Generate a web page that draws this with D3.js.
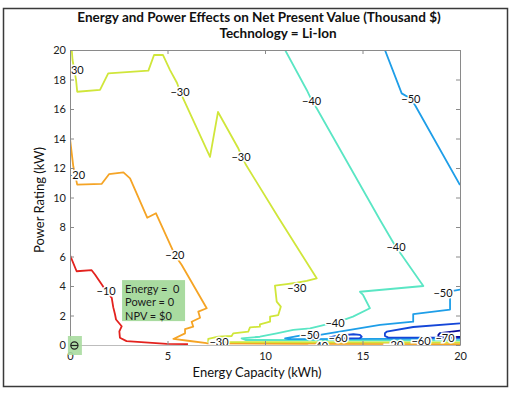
<!DOCTYPE html>
<html>
<head>
<meta charset="utf-8">
<script src="https://cdn.jsdelivr.net/npm/d3@7"></script>
<style>
  body { margin: 0; background: #fff; }
  svg text { font-family: Lato, "Open Sans", sans-serif; }
</style>
</head>
<body>
<svg id="chart" width="514" height="394"></svg>
<script>
/* DATA (energy kWh, power kW) */
const xTicks = [0, 5, 10, 15, 20];
const yTicks = [0, 2, 4, 6, 8, 10, 12, 14, 16, 18, 20];

const levels = [-10, -20, -30, -40, -50, -60, -70];
const levelColors = ["#e3221e", "#f5a425", "#d0e63a", "#5ae6c4", "#1e9ee8", "#1446d8", "#0a0c9c"];

const lineM10 = [[0, 6.1], [0.34, 5.0], [1.11, 5.07], [1.28, 4.78], [1.63, 4.1], [1.85, 3.66], [2.14, 3.2],
  [2.22, 2.55], [2.31, 2.07], [2.36, 1.73], [2.65, 1.27], [2.53, 0.93], [2.56, 0.49], [2.9, 0.26],
  [4.96, 0.08], [6.05, 0.06]];
const lineM20 = [[0, 14.0], [0.17, 12.1], [0.3, 11.3], [0.37, 10.87], [1.62, 10.92], [2.0, 11.58],
  [2.74, 11.7], [3.08, 11.3], [3.96, 8.63], [4.41, 8.93], [5.25, 6.48], [5.38, 6.1], [5.73, 5.42],
  [7.01, 2.49], [6.58, 2.26], [6.67, 1.85], [6.24, 1.58], [6.32, 1.24], [5.9, 1.08], [5.9, 0.79],
  [5.3, 0.41], [6.15, 0.27], [7.01, 0.12], [12, 0.08], [20, 0.06]];
const lineM30 = [[0.09, 20], [0.13, 19.32], [0.31, 17.97], [0.37, 17.17], [1.54, 17.29], [1.96, 18.42],
  [4.02, 18.6], [4.31, 19.66], [4.77, 19.66], [5.13, 18.64], [5.49, 17.76], [5.64, 17.2], [5.79, 16.75],
  [7.18, 12.75], [7.59, 15.8], [8.62, 13.36], [8.8, 12.8], [9.03, 12.2], [10.67, 8.68], [12.65, 4.52],
  [12.14, 4.34], [11.63, 4.22], [11.11, 4.12], [10.51, 4.02], [10.6, 2.94], [10.81, 2.6], [10.68, 2.03],
  [10.26, 1.92], [10.26, 1.58], [9.74, 1.4], [9.74, 1.24], [9.23, 1.2], [9.14, 0.9], [8.37, 0.79],
  [8.29, 0.61], [7.6, 0.56], [7.09, 0.41], [7.09, 0.2], [7.6, 0.2], [20, 0.18]];
const lineM40 = [[11.03, 20], [12.14, 17.29], [12.39, 16.6], [12.65, 16.05], [15.9, 8.47], [16.5, 7.12],
  [16.72, 6.63], [17.01, 6.1], [18.12, 4.0], [14.87, 3.61], [15.03, 3.39], [15.38, 2.49], [14.51, 1.92],
  [14.0, 1.69], [13.59, 1.52], [13.16, 1.4], [12.31, 1.13], [11.45, 1.02], [10.6, 0.79], [9.74, 0.56],
  [8.8, 0.45], [9.0, 0.34], [20, 0.32]];
const lineM50a = [[16.15, 20], [17.01, 17.06], [17.44, 16.73], [17.69, 16.27], [20, 10.85]];
const lineM50b = [[20, 3.76], [19.57, 3.66], [19.4, 3.4], [19.49, 3.2], [19.49, 2.4], [17.6, 2.1],
  [17.6, 1.58], [15.9, 1.36], [12.82, 0.68], [12.36, 0.63], [11.79, 0.63], [11.03, 0.45], [11.2, 0.4],
  [16, 0.42], [20, 0.44]];
const lineM60a = [[13.3, 0.52], [13.6, 0.6], [14.53, 0.73], [14.87, 0.68], [14.96, 0.56], [14.87, 0.47],
  [13.85, 0.45], [13.3, 0.52]];
const lineM60b = [[20, 1.46], [17.6, 1.22], [16.24, 0.9], [16.15, 0.8], [16.15, 0.62], [16.32, 0.5],
  [18.0, 0.5], [20, 0.5]];
const lineM70 = [[20, 0.98], [18.97, 0.8], [18.89, 0.68], [18.89, 0.56], [19.3, 0.55], [20, 0.55]];

const contourLines = [
  { level: -10, pts: lineM10 }, { level: -20, pts: lineM20 }, { level: -30, pts: lineM30 },
  { level: -40, pts: lineM40 }, { level: -50, pts: lineM50a }, { level: -50, pts: lineM50b },
  { level: -60, pts: lineM60a }, { level: -60, pts: lineM60b }, { level: -70, pts: lineM70 }
];

// contour labels: level, energy, power
const labelLevels = [-10, -20, -20, -30, -30, -30, -30, -30, -40, -40, -40, -40, -50, -50, -50, -60, -60, -70, -20];
const labelX = [1.85, 0.28, 5.38, 0.21, 5.64, 8.77, 11.63, 7.64, 12.39, 16.72, 13.59, 12.75, 17.48, 19.13, 12.3, 13.75, 18.0, 19.23, 16.6];
const labelY = [3.64, 11.5, 6.07, 18.66, 17.17, 12.75, 3.84, 0.22, 16.56, 6.63, 1.47, -0.1, 16.69, 3.5, 0.66, 0.45, 0.27, 0.45, 0.0];

const tip = { energy: 0.2, power: 0, lines: ["Energy =  0", "Power = 0", "NPV = $0"] };

/* CHART */
const svg = d3.select("#chart");
const margin = { left: 70, right: 54, top: 50, bottom: 49 };
const W = 514, H = 394;

const x = d3.scaleLinear().domain([0, 20]).range([margin.left, W - margin.right]);
const y = d3.scaleLinear().domain([0, 20]).range([H - margin.bottom, margin.top]);
const color = d3.scaleOrdinal().domain(levels).range(levelColors);

svg.append("rect").attr("x", 3.5).attr("y", 8.5).attr("width", 504).attr("height", 378)
  .attr("fill", "#fff").attr("stroke", "#3a3a3a").attr("stroke-width", 1.5);

svg.append("defs").append("clipPath").attr("id", "plotclip")
  .append("rect").attr("x", x(0)).attr("y", y(20)).attr("width", x(20) - x(0)).attr("height", y(0) - y(20));

// title
svg.append("text").attr("x", 259).attr("y", 22).attr("text-anchor", "middle")
  .attr("font-size", 13.5).attr("font-weight", "bold").attr("fill", "#111")
  .text("Energy and Power Effects on Net Present Value (Thousand $)");
svg.append("text").attr("x", 278).attr("y", 38).attr("text-anchor", "middle")
  .attr("font-size", 13.5).attr("font-weight", "bold").attr("fill", "#111")
  .text("Technology = Li-Ion");

// contour lines
const plot = svg.append("g").attr("clip-path", "url(#plotclip)");
const line = d3.line().x(d => x(d[0])).y(d => y(d[1]));
plot.selectAll("path.contour")
  .data(contourLines)
  .join("path")
  .attr("class", "contour")
  .attr("d", d => line(d.pts))
  .attr("fill", "none")
  .attr("stroke", d => color(d.level))
  .attr("stroke-width", 1.8)
  .attr("stroke-linejoin", "round");

// inline labels with a white halo that breaks the line
plot.selectAll("text.clabel")
  .data(labelLevels.map((l, i) => ({ level: l, ex: labelX[i], py: labelY[i] })))
  .join("text")
  .attr("class", "clabel")
  .attr("x", d => x(d.ex))
  .attr("y", d => y(d.py))
  .attr("dy", "0.35em")
  .attr("text-anchor", "middle")
  .attr("font-size", 11)
  .attr("fill", "#111")
  .attr("stroke", "#fff")
  .attr("stroke-width", 3)
  .attr("paint-order", "stroke")
  .text(d => "\u2212" + Math.abs(d.level));

// axes (ticks point inward)
const axisColor = "#8a8a8a";
const gx = svg.append("g").attr("transform", `translate(0,${y(0)})`)
  .call(d3.axisBottom(x).tickValues(xTicks).tickSizeInner(-4).tickSizeOuter(0).tickPadding(7));
const gy = svg.append("g").attr("transform", `translate(${x(0)},0)`)
  .call(d3.axisLeft(y).tickValues(yTicks).tickSizeInner(-4).tickSizeOuter(0).tickPadding(4));
const gt = svg.append("g").attr("transform", `translate(0,${y(20)})`)
  .call(d3.axisTop(x).tickValues(xTicks).tickSizeInner(-4).tickSizeOuter(0).tickFormat(""));
const gr = svg.append("g").attr("transform", `translate(${x(20)},0)`)
  .call(d3.axisRight(y).tickValues(yTicks).tickSizeInner(-4).tickSizeOuter(0).tickFormat(""));
[gx, gy, gt, gr].forEach(g => {
  g.selectAll("path, line").attr("stroke", axisColor);
  g.selectAll("text").attr("font-size", 11).attr("fill", "#222").attr("font-family", "Lato, sans-serif");
});
gx.select(".domain").attr("stroke", "#bdbdbd");

// data tip
const tx = x(tip.energy), ty = y(tip.power);
svg.append("rect").attr("x", tx - 6).attr("y", ty - 9).attr("width", 14).attr("height", 19)
  .attr("fill", "#a9dba0").attr("opacity", 0.9);
svg.append("circle").attr("cx", tx + 0.5).attr("cy", ty + 0.5).attr("r", 3.6)
  .attr("fill", "none").attr("stroke", "#222").attr("stroke-width", 1.2);
svg.append("line").attr("x1", tx - 3).attr("x2", tx + 4).attr("y1", ty + 0.5).attr("y2", ty + 0.5)
  .attr("stroke", "#222").attr("stroke-width", 1.2);

const bx = x(2.67), by = y(4.4);
svg.append("rect").attr("x", bx).attr("y", by).attr("width", 63).attr("height", 41)
  .attr("fill", "#a9dba0");
svg.append("g").selectAll("text")
  .data(tip.lines)
  .join("text")
  .attr("x", bx + 3)
  .attr("y", (d, i) => by + 13 + i * 13.3)
  .attr("font-size", 11)
  .attr("fill", "#1a1a1a")
  .style("white-space", "pre")
  .text(d => d);

// axis labels
svg.append("text").attr("x", 257).attr("y", 377).attr("text-anchor", "middle")
  .attr("font-size", 13).attr("fill", "#111").text("Energy Capacity (kWh)");
svg.append("text").attr("transform", "translate(44,200) rotate(-90)").attr("text-anchor", "middle")
  .attr("font-size", 13).attr("fill", "#111").text("Power Rating (kW)");
</script>
</body>
</html>
